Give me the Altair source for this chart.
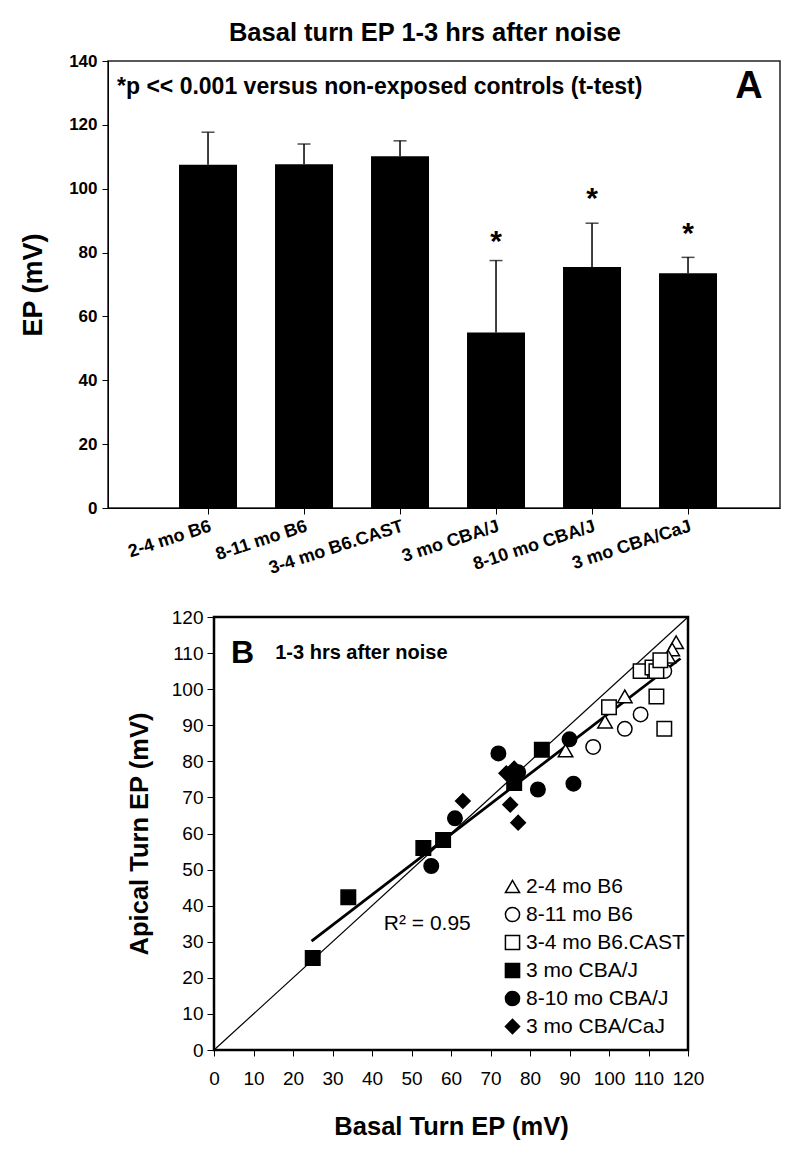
import altair as alt
import pandas as pd

# ---------------- Panel A data ----------------
groups = ["2-4 mo B6", "8-11 mo B6", "3-4 mo B6.CAST", "3 mo CBA/J", "8-10 mo CBA/J", "3 mo CBA/CaJ"]
ep_mean = [107.5, 107.7, 110.2, 55.0, 75.5, 73.5]
ep_err_top = [117.7, 114.0, 115.0, 77.5, 89.2, 78.5]
star_groups = ["3 mo CBA/J", "8-10 mo CBA/J", "3 mo CBA/CaJ"]
star_y = [84.5, 98.0, 87.0]
y_ticks_a = [0, 20, 40, 60, 80, 100, 120, 140]
note_text = ["*p << 0.001 versus non-exposed controls (t-test)"]
note_y = [132]

# ---------------- Panel B data ----------------
tri_x = [117, 116, 115, 104, 99, 89]
tri_y = [113, 111, 109, 98, 91, 83]
ocirc_x = [96, 104, 108, 114]
ocirc_y = [84, 89, 93, 105]
osq_x = [100, 108, 111, 112, 113, 112, 114]
osq_y = [95, 105, 106, 105, 108, 98, 89]
fsq_x = [25, 34, 53, 58, 83, 76]
fsq_y = [25.5, 42.3, 56, 58.2, 83.2, 74]
fcirc_x = [55, 61, 72, 82, 90, 91, 77]
fcirc_y = [51, 64.2, 82.2, 72.2, 86.1, 73.8, 77]
diam_x = [63, 75, 77, 74, 76]
diam_y = [69, 68, 63, 76.7, 78]
diag_x = [0, 120]
diag_y = [0, 120]
reg_x = [24.7, 118.1]
reg_y = [30.2, 108.5]
b_ticks = [0, 10, 20, 30, 40, 50, 60, 70, 80, 90, 100, 110, 120]
shapes = ["triangle-up", "circle", "square", "square", "circle", "diamond"]
fills = ["white", "white", "white", "black", "black", "black"]
strokes = ["black", "black", "black", "black", "black", "black"]
r2_pos = (54, 35)
panel_b_pos = (7.2, 110)
sub_pos = (15.5, 110)

FONT = "Liberation Sans"

# ---------------- Panel A ----------------
top_df = pd.DataFrame({"group": groups, "mean": ep_mean, "err": ep_err_top})
star_df = pd.DataFrame({"group": star_groups, "sy": star_y})
note_df = pd.DataFrame({"t": note_text, "ny": note_y})

xA = alt.X("group:N", sort=groups,
           scale=alt.Scale(domain=groups, paddingInner=0.396, paddingOuter=0.698, align=0.53),
           axis=alt.Axis(title=None, labelAngle=-18, labelAlign="right", labelBaseline="top",
                         labelFontSize=18, labelFontWeight="bold", labelFont=FONT,
                         labelColor="black", labelPadding=3, tickSize=6, tickColor="black",
                         domainColor="black", labelLimit=300))
yA_scale = alt.Scale(domain=[0, 140], nice=False)
yA_axis = alt.Axis(values=y_ticks_a, title="EP (mV)", titleFontSize=27, titleFontWeight="bold",
                   titleFont=FONT, titleColor="black", titlePadding=21,
                   labelFontSize=17, labelFontWeight="bold", labelFont=FONT, labelColor="black",
                   labelPadding=5, tickSize=6, tickColor="black", domainColor="black", grid=False)

bars = alt.Chart(top_df).mark_bar(color="black").encode(
    x=xA, y=alt.Y("mean:Q", scale=yA_scale, axis=yA_axis))
err = alt.Chart(top_df).mark_rule(color="black", strokeWidth=1.5).encode(
    x=xA, y=alt.Y("mean:Q", scale=yA_scale), y2="err:Q")
cap = alt.Chart(top_df).mark_tick(color="black", thickness=1.5, size=13).encode(
    x=xA, y=alt.Y("err:Q", scale=yA_scale))
stars = alt.Chart(star_df).mark_text(text="*", fontSize=30, fontWeight="bold", font=FONT,
                                     baseline="middle", dy=4, color="black").encode(
    x=xA, y=alt.Y("sy:Q", scale=yA_scale))
note = alt.Chart(note_df).mark_text(
    fontSize=23, fontWeight="bold", font=FONT, align="left", baseline="middle",
    color="black").encode(x=alt.value(9), y=alt.Y("ny:Q", scale=yA_scale), text="t:N")
labA = alt.Chart(note_df).mark_text(
    text="A", fontSize=38, fontWeight="bold", font=FONT, align="center", baseline="middle",
    color="black").encode(x=alt.value(641), y=alt.Y("ny:Q", scale=yA_scale))

top = alt.layer(bars, err, cap, stars, note, labA).properties(
    width=672, height=447,
    title=alt.TitleParams("Basal turn EP 1-3 hrs after noise", fontSize=25.5, fontWeight="bold",
                          font=FONT, color="black", anchor="middle", dx=-19, offset=6),
    view=alt.ViewBackground(stroke="#222222", strokeWidth=1.5))

# ---------------- Panel B ----------------
rows = []
for g, xs, ys in [(groups[0], tri_x, tri_y), (groups[1], ocirc_x, ocirc_y),
                  (groups[2], osq_x, osq_y), (groups[3], fsq_x, fsq_y),
                  (groups[4], fcirc_x, fcirc_y), (groups[5], diam_x, diam_y)]:
    for a, b in zip(xs, ys):
        rows.append({"group": g, "x": a, "y": b})
sc_df = pd.DataFrame(rows)

xB_scale = alt.Scale(domain=[0, 120], nice=False)
yB_scale = alt.Scale(domain=[0, 120], nice=False)
xB_axis = alt.Axis(values=b_ticks, title="Basal Turn EP (mV)", titleFontSize=25.5,
                   titleFontWeight="bold", titleFont=FONT, titleColor="black", titlePadding=26,
                   labelFontSize=19, labelFont=FONT, labelColor="black", labelPadding=13,
                   tickSize=6, tickColor="black", domainColor="black", grid=False,
                   labelFlush=False, labelOverlap=False)
yB_axis = alt.Axis(values=b_ticks, title="Apical Turn EP (mV)", titleFontSize=25.5,
                   titleFontWeight="bold", titleFont=FONT, titleColor="black", titlePadding=19,
                   labelFontSize=19, labelFont=FONT, labelColor="black", labelPadding=4,
                   tickSize=7, tickColor="black", domainColor="black", grid=False,
                   labelFlush=False, labelOverlap=False)
xB = alt.X("x:Q", scale=xB_scale, axis=xB_axis)
yB = alt.Y("y:Q", scale=yB_scale, axis=yB_axis)

diag = alt.Chart(pd.DataFrame({"x": diag_x, "y": diag_y})).mark_line(
    color="black", strokeWidth=1.2).encode(x=xB, y=yB)
reg = alt.Chart(pd.DataFrame({"x": reg_x, "y": reg_y})).mark_line(
    color="black", strokeWidth=2.8).encode(x=xB, y=yB)

leg = alt.Legend(title=None, orient="none", legendX=288, legendY=259, labelFontSize=21,
                 labelFont=FONT, labelColor="black", symbolSize=200, symbolStrokeColor="black",
                 symbolStrokeWidth=1.5, rowPadding=6, labelOffset=3, padding=0)
pts = alt.Chart(sc_df).mark_point(filled=False, size=210, strokeWidth=1.5,
                                  opacity=1, fillOpacity=1, strokeOpacity=1).encode(
    x=xB, y=yB,
    shape=alt.Shape("group:N", scale=alt.Scale(domain=groups, range=shapes), legend=leg),
    fill=alt.Fill("group:N", scale=alt.Scale(domain=groups, range=fills), legend=leg),
    stroke=alt.Stroke("group:N", scale=alt.Scale(domain=groups, range=strokes), legend=leg))

def ann(pos, text, **kw):
    d = pd.DataFrame({"x": [pos[0]], "y": [pos[1]]})
    return alt.Chart(d).mark_text(text=text, font=FONT, baseline="middle", color="black",
                                  **kw).encode(x=xB, y=yB)

labB = ann(panel_b_pos, "B", fontSize=32, fontWeight="bold", align="center")
sub = ann(sub_pos, "1-3 hrs after noise", fontSize=20, fontWeight="bold", align="left")
r2 = ann(r2_pos, "R² = 0.95", fontSize=21, align="center")

bottom = alt.layer(diag, reg, pts, labB, sub, r2).properties(
    width=474, height=433, view=alt.ViewBackground(stroke="black", strokeWidth=2.5))

spacer = alt.Chart(pd.DataFrame({"v": [0]})).mark_point(opacity=0).encode(
    x=alt.value(0), y=alt.value(0)).properties(
    width=3, height=10, view=alt.ViewBackground(stroke="transparent"))

row2 = alt.hconcat(spacer, bottom, spacing=14).resolve_legend(
    shape="independent", fill="independent", stroke="independent")
chart = alt.vconcat(top, row2, spacing=27).resolve_legend(
    shape="independent", fill="independent", stroke="independent").properties(
    padding={"left": 10, "top": 11, "right": 5, "bottom": 5}
).configure(background="white")

chart.save("out.html", embed_options={"renderer": "svg", "actions": False})
